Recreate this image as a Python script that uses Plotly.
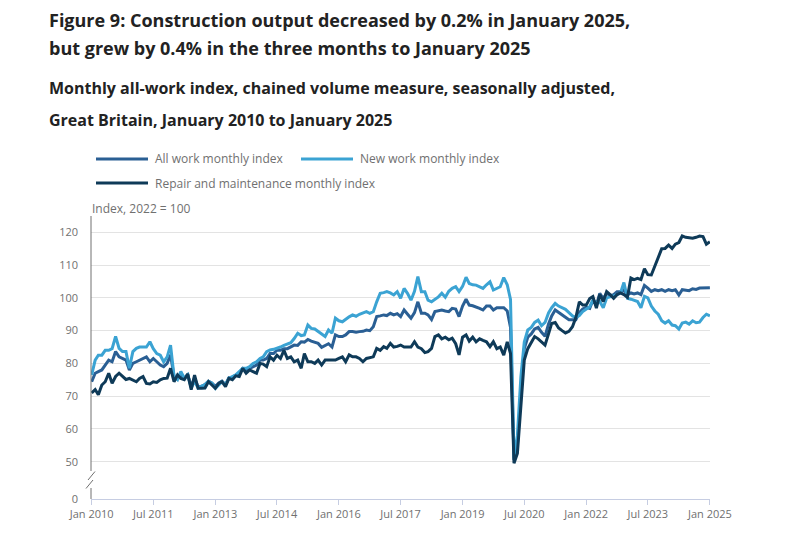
import plotly.graph_objects as go
import pandas as pd

months = pd.date_range("2010-01-01", "2025-01-01", freq="MS")

all_work = [
    74.4, 77, 77.5, 78, 79.5, 81, 80.5, 83.6, 82, 81.5, 81, 78,
    80, 80.5, 81, 81.5, 82, 80.5, 81.5, 80.5, 79.5, 79, 80, 82.6,
    76, 75.4, 76.5, 75.5, 76.5, 73, 75.5, 72.8, 73, 73.5, 74.5, 74,
    73, 74, 74.6, 73.5, 75.6, 75.8, 76.5, 77, 78.5, 78, 78.5, 79,
    79.5, 81, 81, 81.5, 83, 83, 84, 84, 84.5, 84.5, 85, 85.6,
    85.5, 86.6, 86.5, 87.3, 86.8, 86.5, 86.1, 84.9, 85.5, 86, 85, 88.7,
    88.2, 88.2, 88.7, 89.7, 89.7, 89.5, 89.7, 89.8, 90.2, 90, 91.2, 94.3,
    94.5, 94.8, 94.6, 95.3, 94.8, 95.2, 94.3, 96.3, 95, 93.8, 95.5, 98.8,
    95.3, 95.3, 94.8, 93.4, 95.8, 96, 96.3, 96, 95.8, 96.8, 96.6, 94.3,
    97.5, 99.6, 97.8, 97.6, 97.3, 96.8, 96.3, 97.5, 97.5, 96.3, 97, 97,
    97, 96, 91, 50.5, 55, 71, 84.5, 88, 89, 90.5, 91, 89.5,
    88.3, 92, 94.5, 96.3, 95.5, 94.8, 94, 93.3, 93.3, 93.3, 95.5, 96.6,
    97.1, 96.8, 99.3, 97.8, 101.4, 99.8, 101.4, 100.7, 101, 101.9, 101.9, 102.3,
    101, 101.5, 101.2, 101.5, 101, 103.8, 103, 102, 102.5, 102.2, 102.5, 102,
    102.5, 102.2, 102.5, 100.9, 102.5, 102.4, 102.2, 102.8, 102.6, 103, 103.1, 103.2,
    103.1,
]

new_work = [
    76.5, 81, 82.5, 82.5, 84, 84, 84.5, 88.2, 84.6, 83.6, 83.6, 78.5,
    83.6, 84.6, 85, 85, 85, 86.6, 84.5, 83, 82.5, 80.5, 82, 85.6,
    76, 75, 77.5, 75.5, 76.5, 72.5, 74.5, 72.5, 73, 73.5, 74.5, 74,
    72.4, 73.5, 74.4, 73.5, 75.5, 76, 76.5, 77.5, 78.5, 78.5, 79, 80,
    80.5, 81.5, 82, 83.6, 84.1, 84.3, 84.6, 85, 85.5, 86, 86.3, 87.6,
    89.2, 88.5, 88.7, 91.7, 90.7, 90.5, 89.7, 89, 88.2, 90.2, 89.2, 93.8,
    93, 92.7, 93.5, 94.2, 94.8, 94.4, 95, 95.3, 95.8, 95.3, 95.8, 98.8,
    101.4, 101.6, 101.9, 101.5, 100.9, 101.9, 99.9, 102.9, 101.3, 99.3, 102, 106.5,
    101.9, 101.9, 99.3, 98.8, 99.5, 100.3, 101.4, 100.2, 102, 102.9, 103.4, 101.9,
    103.5, 106.3, 104.4, 104, 103.9, 103.4, 102.9, 104, 104.9, 102.4, 102.9, 103.4,
    106.2, 104, 99.5, 51, 58, 76, 86.5, 90.2, 91, 92.5, 93.2, 91.5,
    92.5, 95.4, 97, 98.3, 97.5, 96.9, 96.5, 95.5, 94.5, 94, 94.6, 95.8,
    96.5, 97.3, 99.3, 98.5, 98.9, 97, 100, 100.2, 100.6, 101, 101.5, 104.7,
    99.9, 99.6, 99.3, 98.9, 97, 100.5, 100, 97.5, 96, 95, 93, 92.3,
    93, 91.7, 91.5, 90.5, 92.3, 92.6, 92, 93, 92.4, 92.6, 94, 95,
    94.5,
]

repair = [
    71, 72, 70.4, 73.4, 74.4, 77, 73.9, 76, 77, 76, 75.1, 75.4,
    75, 74.4, 75.4, 76, 73.9, 73.7, 74.4, 74.2, 75, 75.4, 75.5, 78.5,
    74.4, 76.5, 75.4, 75, 76.8, 72, 76.4, 72.4, 72.4, 72.5, 74.4, 73.4,
    72.4, 73.9, 74.4, 72.9, 75.4, 75, 76.2, 76, 78.5, 77, 78, 77.5,
    77, 80, 79.8, 79, 82, 81, 82.5, 81.5, 84, 81.5, 82, 80.5,
    81, 78.5, 83, 80.5, 80.5, 80, 81, 79.5, 81, 81, 81, 81,
    81.5, 82, 80.5, 82.6, 82, 82, 81.5, 80.5, 81.5, 81.8, 82, 84.6,
    84, 85.1, 84.6, 86.1, 85, 85.2, 85.6, 85, 85, 85, 86.6, 85,
    84.5, 83.3, 83.6, 84.6, 88.2, 88.7, 87.5, 88, 87.2, 87.7, 86, 82.6,
    88, 88.7, 86.8, 88, 86.6, 87.5, 87, 86.6, 85.1, 86.6, 84.5, 85,
    82.5, 86.6, 83, 49.5, 52.5, 67, 81, 84.5, 86.5, 88.2, 87.5, 86.5,
    85.6, 89, 92.2, 92.5, 90.8, 90, 89.3, 89.8, 91.2, 94, 98.8, 97.8,
    97.8, 99.8, 100.4, 96.9, 101, 98.9, 101.9, 101, 99.9, 101, 101.5, 101,
    100.2, 106.1, 105.6, 106, 105.6, 108.9, 107.1, 107, 109.7, 112.3, 115, 115.1,
    116.1, 115.1, 116.4, 116.9, 118.9, 118.5, 118.3, 118.2, 118.5, 118.9, 118.7, 116.4,
    117.1,
]

series_names = ["All work monthly index", "New work monthly index",
                "Repair and maintenance monthly index"]
y_tick_labels = ["0", "50", "60", "70", "80", "90", "100", "110", "120"]
y_tick_values = [38.6, 50, 60, 70, 80, 90, 100, 110, 120]

C_ALL = "#2a5f94"
C_NEW = "#3ba3d3"
C_REP = "#0e3a58"
GREY = "#707070"
FONT = "Open Sans"

# plot geometry (pixels)
W, H = 785, 546
L, R, T, B = 91, 710, 216, 499
YMIN, YMAX = 38.6, 125


def px(xp):
    return (xp - L) / (R - L)


def py(yp):
    return (B - yp) / (B - T)


def yval(yp):
    return YMIN + (B - yp) * (YMAX - YMIN) / (B - T)


fig = go.Figure()
for name, vals, col in [(series_names[0], all_work, C_ALL),
                        (series_names[1], new_work, C_NEW),
                        (series_names[2], repair, C_REP)]:
    fig.add_trace(go.Scatter(x=months, y=vals, mode="lines", name=name,
                             line=dict(color=col, width=3),
                             showlegend=False))

annotations = []
# titles
for text, yp, size in [
    ("Figure 9: Construction output decreased by 0.2% in January 2025,", 20, 18),
    ("but grew by 0.4% in the three months to January 2025", 48, 18),
    ("Monthly all-work index, chained volume measure, seasonally adjusted,", 88, 16),
    ("Great Britain, January 2010 to January 2025", 120, 16),
]:
    annotations.append(dict(text="<b>%s</b>" % text, xref="paper", yref="paper",
                            x=px(47), y=py(yp), xanchor="left", yanchor="middle",
                            showarrow=False,
                            font=dict(family=FONT, size=size, color="#222222")))

# legend (manual)
shapes = []
legend_items = [(series_names[0], C_ALL, 96, 159),
                (series_names[1], C_NEW, 301, 159),
                (series_names[2], C_REP, 96, 183)]
for name, col, x0, yp in legend_items:
    shapes.append(dict(type="line", xref="paper", yref="paper",
                       x0=px(x0), x1=px(x0 + 52), y0=py(yp), y1=py(yp),
                       line=dict(color=col, width=3)))
    annotations.append(dict(text=name, xref="paper", yref="paper",
                            x=px(x0 + 57), y=py(yp), xanchor="left",
                            yanchor="middle", showarrow=False,
                            font=dict(family=FONT, size=12, color=GREY)))

annotations.append(dict(text="Index, 2022 = 100", xref="paper", yref="paper",
                        x=px(90), y=py(208), xanchor="left", yanchor="middle",
                        showarrow=False,
                        font=dict(family=FONT, size=12, color=GREY)))

# y axis line with break
shapes.append(dict(type="line", xref="paper", yref="y", x0=0, x1=0,
                   y0=yval(471), y1=YMAX, line=dict(color=GREY, width=1)))
shapes.append(dict(type="line", xref="paper", yref="y", x0=0, x1=0,
                   y0=YMIN, y1=yval(488), line=dict(color=GREY, width=1)))
shapes.append(dict(type="line", xref="paper", yref="y", x0=px(88), x1=px(95),
                   y0=yval(480), y1=yval(471.5), line=dict(color=GREY, width=1)))
shapes.append(dict(type="line", xref="paper", yref="y", x0=px(86), x1=px(93),
                   y0=yval(488.5), y1=yval(480), line=dict(color=GREY, width=1)))

fig.update_layout(
    width=W, height=H,
    margin=dict(l=L, r=W - R, t=T, b=H - B, pad=0),
    paper_bgcolor="white", plot_bgcolor="white",
    font=dict(family=FONT, color=GREY),
    showlegend=False,
    annotations=annotations,
    shapes=shapes,
    xaxis=dict(
        type="date",
        range=["2009-12-26", "2025-01-02"],
        tick0="2010-01-01", dtick="M18", tickformat="%b %Y",
        showgrid=False, zeroline=False,
        showline=True, linecolor="#c6cde2", linewidth=1,
        ticks="outside", ticklen=5, tickcolor="#c6cde2",
        tickfont=dict(family=FONT, size=11, color=GREY),
    ),
    yaxis=dict(
        range=[YMIN, YMAX],
        tickmode="array", tickvals=y_tick_values, ticktext=y_tick_labels,
        showgrid=True, gridcolor="#e3e3e3", gridwidth=1,
        zeroline=False, showline=False, ticks="",
        ticklabelstandoff=12,
        tickfont=dict(family=FONT, size=11, color=GREY),
    ),
)

fig.write_html("out.html", config={"displayModeBar": False},
               post_script="document.body.style.margin='0';document.body.style.overflow='hidden';")
